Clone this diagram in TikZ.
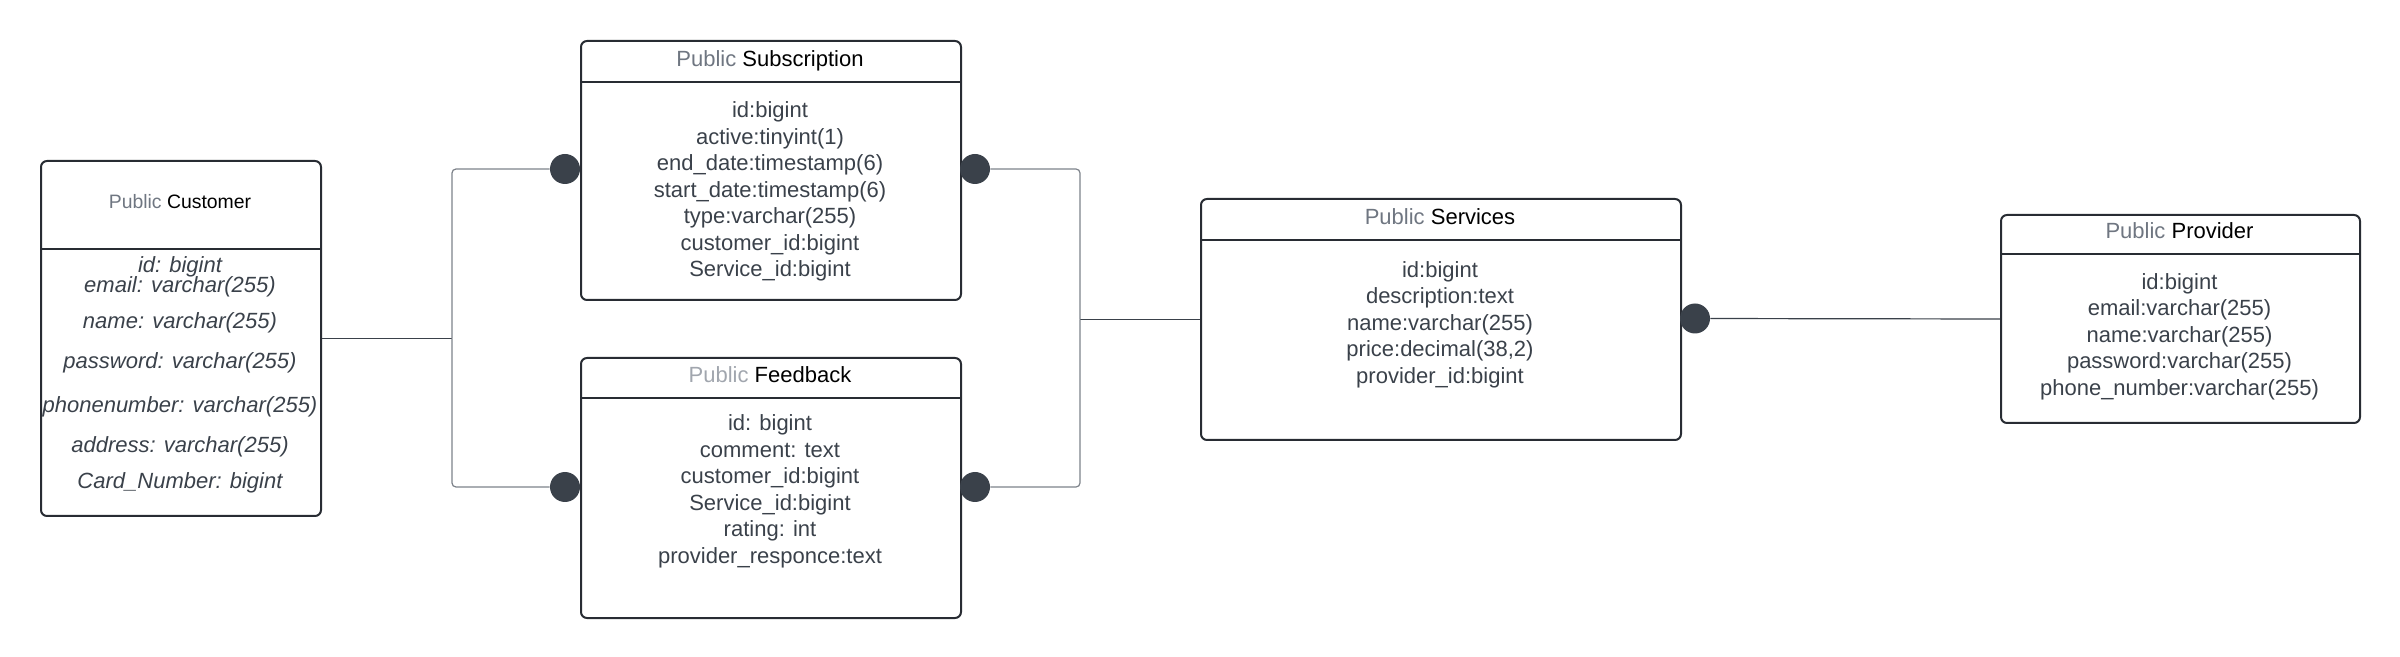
\documentclass[tikz,border=0pt]{standalone}
\usepackage{fontspec}
\setmainfont{Liberation Sans}
\usetikzlibrary{positioning}
\definecolor{edge}{HTML}{282C33}
\definecolor{ink}{HTML}{3A414A}
\definecolor{pub}{HTML}{6F7681}
\definecolor{publight}{HTML}{A1A6AE}
\definecolor{wire}{HTML}{7D828A}

\begin{document}
\begin{tikzpicture}[x=0.5pt,y=-0.5pt,
	table/.style = {draw=edge, line width=1pt, rounded corners=3pt, anchor=north west, inner sep=0pt},
	rule/.style = {draw=edge, line width=1pt},
	head/.style = {font=\fontsize{11}{13}\selectfont, text=black},
	fields/.style = {align=center, text=ink, font=\fontsize{11}{13.25}\selectfont},
	dot/.style = {circle, fill=ink, minimum size=15pt, inner sep=0pt},
	link/.style = {draw=wire, line width=0.6pt, rounded corners=2pt},
	darklink/.style = {draw=ink, line width=0.6pt}]
	\useasboundingbox (0,0) rectangle (2400,657);
	
	\node[table, minimum width=140pt, minimum height=177.5pt] (cust) at (40,160) {};
	\node[table, minimum width=190pt, minimum height=129.5pt] (sub) at (580,40) {};
	\node[table, minimum width=190pt, minimum height=130pt] (fb) at (580,357) {};
	\node[table, minimum width=240pt, minimum height=120.5pt] (serv) at (1200,198) {};
	\node[table, minimum width=179.5pt, minimum height=104pt] (prov) at (2000,214) {};
	
	\draw[rule] ([yshift=-44.5pt]cust.north west) -- ([yshift=-44.5pt]cust.north east);
	\draw[rule] ([yshift=-21pt]sub.north west) -- ([yshift=-21pt]sub.north east);
	\draw[rule] ([yshift=-20.5pt]fb.north west) -- ([yshift=-20.5pt]fb.north east);
	\draw[rule] ([yshift=-21pt]serv.north west) -- ([yshift=-21pt]serv.north east);
	\draw[rule] ([yshift=-20pt]prov.north west) -- ([yshift=-20pt]prov.north east);
	
	\node[head, font=\fontsize{9.7}{12}\selectfont] (custT) at (180,202) {\textcolor{pub}{Public} Customer};
	\node[head] (subT) at (770,61) {\textcolor{pub}{Public} Subscription};
	\node[head] (fbT) at (770,375) {\textcolor{publight}{Public} Feedback};
	\node[head] (servT) at (1440,217) {\textcolor{pub}{Public} Services};
	\node[head] (provT) at (2179.5,231) {\textcolor{pub}{Public} Provider};
	
	\foreach \y/\t [count=\i] in {267/id: bigint, 287/email: varchar(255), 323/name: varchar(255), 363/password: varchar(255), 407/phonenumber: varchar(255), 447/address: varchar(255), 483/Card\_Number: bigint}
		\node[fields, font=\fontsize{11}{13}\selectfont\itshape] (cust\i) at (180,\y) {\t};
	
	\node[fields] (subF) at (770,191.5) {id:bigint\\active:tinyint(1)\\end\_date:timestamp(6)\\start\_date:timestamp(6)\\type:varchar(255)\\customer\_id:bigint\\Service\_id:bigint};
	\node[fields] (fbF) at (770,491.5) {id: bigint\\comment: text\\customer\_id:bigint\\Service\_id:bigint\\rating: int\\provider\_responce:text};
	\node[fields] (servF) at (1440,324.5) {id:bigint\\description:text\\name:varchar(255)\\price:decimal(38,2)\\provider\_id:bigint};
	\node[fields] (provF) at (2179.5,336.5) {id:bigint\\email:varchar(255)\\name:varchar(255)\\password:varchar(255)\\phone\_number:varchar(255)};
	
	\node[dot] (subL) at (565,169) {};
	\node[dot] (subR) at (975,169) {};
	\node[dot] (fbL) at (565,487) {};
	\node[dot] (fbR) at (975,487) {};
	\node[dot] (servR) at (1695,318.5) {};
	
	\draw[darklink] (cust.east) -- ++(130,0) coordinate (custJ);
	\draw[link] (custJ) |- (subL);
	\draw[link] (custJ) |- (fbL);
	\coordinate (servJ) at ([xshift=-60pt]serv.west);
	\draw[darklink] (servJ) -- (serv.west);
	\draw[link] (subR) -| (servJ);
	\draw[link] (fbR) -| (servJ);
	\draw[darklink] (servR) -- (prov.west);
	
\end{tikzpicture}
\end{document}
